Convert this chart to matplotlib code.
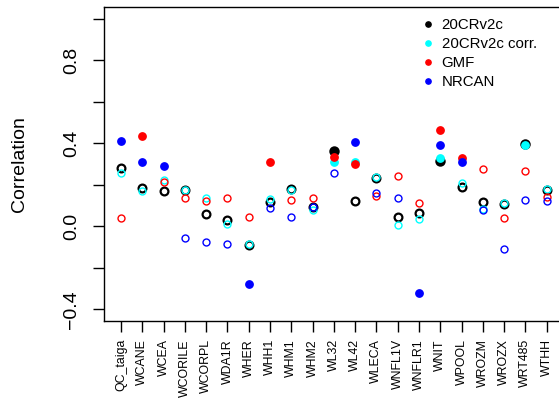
import numpy as np
import matplotlib
matplotlib.use("Agg")
import matplotlib.pyplot as plt
from matplotlib.lines import Line2D

plt.rcParams['font.family'] = ['Liberation Sans', 'DejaVu Sans']

# stations and correlations
stations = ["QC_taiga", "WCANE", "WCEA", "WCORILE", "WCORPL", "WDA1R", "WHER",
            "WHH1", "WHM1", "WHM2", "WL32", "WL42", "WLECA", "WNFL1V", "WNFLR1",
            "WNIT", "WPOOL", "WROZM", "WROZX", "WRT485", "WTHH"]

cr20 = [0.280, 0.185, 0.171, 0.177, 0.060, 0.031, -0.089, 0.119, 0.180, 0.093, 0.361,
        0.124, 0.234, 0.043, 0.066, 0.314, 0.190, 0.116, 0.108, 0.395, 0.175]
cr20_corr = [0.259, 0.172, 0.224, 0.175, 0.137, 0.010, -0.085, 0.130, 0.176, 0.077, 0.311,
             0.308, 0.238, 0.006, 0.035, 0.327, 0.208, 0.082, 0.113, 0.393, 0.178]
gmf = [0.042, 0.433, 0.211, 0.137, 0.124, 0.135, 0.047, 0.308, 0.129, 0.135, 0.332,
       0.298, 0.148, 0.240, 0.114, 0.462, 0.330, 0.277, 0.042, 0.267, 0.140]
nrcan = [0.409, 0.308, 0.288, -0.058, -0.074, -0.084, -0.277, 0.089, 0.047, 0.095, 0.259,
         0.404, 0.159, 0.137, -0.322, 0.390, 0.308, 0.080, -0.108, 0.126, 0.122]

# significant (filled) or not (open)
sig_cr20 = [0, 0, 0, 0, 0, 0, 0, 0, 0, 0, 1, 0, 0, 0, 0, 1, 0, 0, 0, 1, 0]
sig_cr20_corr = [0, 0, 0, 0, 0, 0, 0, 0, 0, 0, 1, 1, 0, 0, 0, 1, 0, 0, 0, 1, 0]
sig_gmf = [0, 1, 0, 0, 0, 0, 0, 1, 0, 0, 1, 1, 0, 0, 0, 1, 1, 0, 0, 0, 0]
sig_nrcan = [1, 1, 1, 0, 0, 0, 1, 0, 0, 0, 0, 1, 0, 0, 1, 1, 1, 0, 0, 0, 0]

series = [("20CRv2c", cr20, sig_cr20, "black"),
          ("20CRv2c corr.", cr20_corr, sig_cr20_corr, "cyan"),
          ("GMF", gmf, sig_gmf, "red"),
          ("NRCAN", nrcan, sig_nrcan, "blue")]

W, H = 559, 409
fig = plt.figure(figsize=(W / 100, H / 100), dpi=100)
ax = fig.add_axes([104 / W, 88 / H, 459.7 / W, 314 / H])

x = np.arange(1, len(stations) + 1)
for name, vals, sig, col in series:
    vals = np.array(vals)
    sig = np.array(sig, dtype=bool)
    if col == "black":
        ms, mew = 5.6, 1.6
    else:
        ms, mew = 5.0, 1.0
    ax.plot(x[sig], vals[sig], 'o', color=col, ms=ms + 0.3, mew=mew, mec=col)
    ax.plot(x[~sig], vals[~sig], 'o', color=col, ms=ms, mew=mew, mfc='none', mec=col)

ax.set_xlim(0.2, 21.8)
ax.set_ylim(-0.456, 1.056)

yt = [-0.4, -0.2, 0.0, 0.2, 0.4, 0.6, 0.8, 1.0]
ylab = ["\u22120.4", "", "0.0", "", "0.4", "", "0.8", ""]
ax.set_yticks(yt)
ax.set_yticklabels(ylab, rotation=90, va='center', fontsize=14)
ax.set_xticks(x)
ax.set_xticklabels(stations, rotation=90, fontsize=8.9)
ax.tick_params(axis='y', length=8, width=1, pad=9)
ax.tick_params(axis='x', length=8, width=1, pad=5)
for s in ax.spines.values():
    s.set_linewidth(1.0)

fig.text(20 / W, 1 - 164 / H, "Correlation", rotation=90, ha='center', va='center', fontsize=14)

handles = [Line2D([], [], marker='o', ls='none', color=c, ms=3.8) for _, _, _, c in series]
fig.legend(handles, [s[0] for s in series], loc='upper left',
           bbox_to_anchor=(420.5 / W, 1 - 18 / H), frameon=False, fontsize=10.8,
           handlelength=1.0, handletextpad=0.4, labelspacing=0.33,
           borderpad=0, borderaxespad=0)

fig.savefig("out.png", dpi=100)
